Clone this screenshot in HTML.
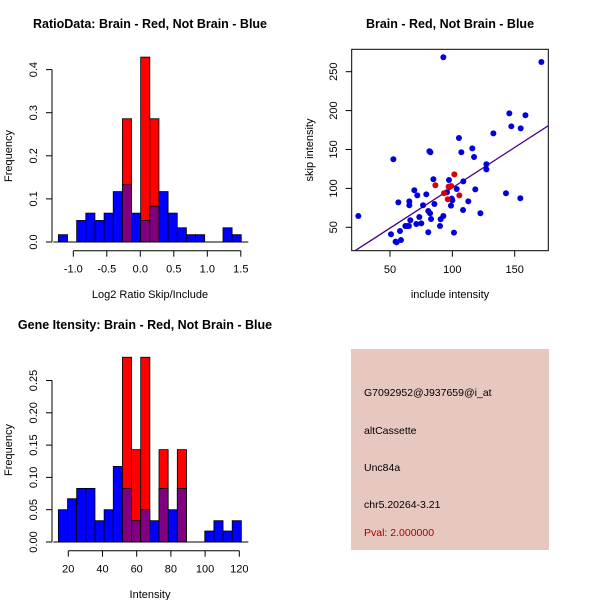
<!DOCTYPE html>
<html><head><meta charset="utf-8"><style>
body{margin:0;background:#fff;}
svg{display:block;font-family:"Liberation Sans",sans-serif;}
</style></head><body>
<svg id="s" width="600" height="600" xmlns="http://www.w3.org/2000/svg">
<rect x="0" y="0" width="600" height="600" fill="#fff"/>
<text x="150" y="28" text-anchor="middle" font-size="12.5" font-weight="bold">RatioData: Brain - Red, Not Brain - Blue</text>
<text x="450" y="28" text-anchor="middle" font-size="12.5" font-weight="bold">Brain - Red, Not Brain - Blue</text>
<text x="145" y="329" text-anchor="middle" font-size="12.5" font-weight="bold">Gene Itensity: Brain - Red, Not Brain - Blue</text>
<text x="150" y="298" text-anchor="middle" font-size="11">Log2 Ratio Skip/Include</text>
<text x="450" y="298" text-anchor="middle" font-size="11">include intensity</text>
<text x="150" y="598" text-anchor="middle" font-size="11">Intensity</text>
<text transform="translate(12,156) rotate(-90)" text-anchor="middle" font-size="11">Frequency</text>
<text transform="translate(313,150) rotate(-90)" text-anchor="middle" font-size="11">skip intensity</text>
<text transform="translate(12,450) rotate(-90)" text-anchor="middle" font-size="11">Frequency</text>
<g>
<rect x="351" y="349" width="198" height="201" fill="#e6c8c0"/>
<text x="364" y="396" font-size="10.5">G7092952@J937659@i_at</text>
<text x="364" y="434" font-size="10.5">altCassette</text>
<text x="364" y="471" font-size="10.5">Unc84a</text>
<text x="364" y="508" font-size="10.5">chr5.20264-3.21</text>
<text x="364" y="536" font-size="10.5" fill="#b00000">Pval: 2.000000</text>
</g>
</svg>
<script>
// ---- data ----
const ratioBlue=[0.017,0,0.05,0.067,0.05,0.067,0.117,0.133,0.067,0.05,0.083,0.117,0.067,0.033,0.017,0.017,0,0,0.033,0.017];
const ratioRed=[0,0,0,0,0,0,0,0.286,0,0.429,0.286,0,0,0,0,0,0,0,0,0];
const ratioBinStart=-1.223, ratioBinWidth=0.1365;
const ratioXTicks=[-1.0,-0.5,0.0,0.5,1.0,1.5];
const ratioXLabels=["-1.0","-0.5","0.0","0.5","1.0","1.5"];
const ratioYTicks=[0,0.1,0.2,0.3,0.4];
const ratioYLabels=["0.0","0.1","0.2","0.3","0.4"];

const intBlue=[0.05,0.067,0.083,0.083,0.033,0.05,0.117,0.083,0.033,0.05,0.033,0.083,0.05,0.083,0,0,0.017,0.033,0.017,0.033];
const intRed=[0,0,0,0,0,0,0,0.286,0.143,0.286,0,0.143,0,0.143,0,0,0,0,0,0];
const intBinStart=14.2, intBinWidth=5.35;
const intXTicks=[20,40,60,80,100,120];
const intXLabels=["20","40","60","80","100","120"];
const intYTicks=[0,0.05,0.1,0.15,0.2,0.25];
const intYLabels=["0.00","0.05","0.10","0.15","0.20","0.25"];

const blueX=[24.6,50.8,54.5,55.3,58.8,58,52.7,56.7,62.3,63.9,65.2,66.3,65.5,65.5,69.5,71.1,71.9,73.5,75.1,76.5,79.1,80.7,80.7,82.1,82.9,81.6,82.4,84.8,85.6,90.1,90.6,92.8,92.8,95.7,97.3,98.9,99.5,100,101.3,103.5,105.3,107.2,108.6,108.8,112.8,116,117.4,118.4,122.5,127.3,127.3,132.9,143,145.7,147.3,154.8,154.5,158.6,171.4];
const blueY=[64.6,41,31.6,30.7,33.7,45.3,137.4,82,51.7,51.7,51.7,59,83.4,78.3,97.6,54.3,91.1,63.3,55.1,78.3,92.4,43.6,71,68,60.7,147.7,146.4,111.7,80,51.7,60.3,64.6,268.5,95,110.8,77.8,86.8,84.7,43.1,99.3,164.8,146.4,72.3,109.1,83.4,151.5,140.4,98.8,68,131,124.5,170.8,93.7,196.5,179.8,177.2,87.3,194,262.5];
const redX=[86.4,93.3,97,99.1,101.6,105.6,96.3];
const redY=[104,93.7,102.3,103.1,118.1,91.1,86];
const fitSlope=1.037, fitIntercept=-2.9;
const scXTicks=[50,100,150], scYTicks=[50,100,150,200,250];

// ---- drawing ----
const svg=document.getElementById('s');
const NS='http://www.w3.org/2000/svg';
function mk(tag,attrs){const e=document.createElementNS(NS,tag);for(const k in attrs)e.setAttribute(k,attrs[k]);svg.appendChild(e);return e;}

function hist(blue,red,b0,bw,sx,sy,xT,xL,yT,yL,axY,prefix){
  const base=sy(0);
  for(let i=0;i<blue.length;i++){
    const x0=sx(b0+i*bw),x1=sx(b0+(i+1)*bw);
    if(red[i]>0){
      const r=mk('rect',{x:x0,y:sy(red[i]),width:x1-x0,height:base-sy(red[i]),fill:'#ff0000',stroke:'#000','stroke-width':0.8});
      
      
    }
    if(blue[i]>0){
      const col=red[i]>0?'#800080':'#0000ff';
      const b=mk('rect',{x:x0,y:sy(blue[i]),width:x1-x0,height:base-sy(blue[i]),fill:col,stroke:'#000','stroke-width':0.8});
      
      
    }
  }
  mk('line',{x1:52,x2:52,y1:sy(yT[0]),y2:sy(yT[yT.length-1]),stroke:'#000'});
  yT.forEach((v,i)=>{
    mk('line',{x1:46,x2:52,y1:sy(v),y2:sy(v),stroke:'#000'});
    const t=mk('text',{transform:`translate(37,${sy(v)}) rotate(-90)`,'text-anchor':'middle','font-size':11});
    t.textContent=yL[i];
    
    
  });
  mk('line',{x1:sx(xT[0]),x2:sx(xT[xT.length-1]),y1:axY,y2:axY,stroke:'#000'});
  xT.forEach((v,i)=>{
    mk('line',{x1:sx(v),x2:sx(v),y1:axY,y2:axY+6,stroke:'#000'});
    const t=mk('text',{x:sx(v),y:axY+22,'text-anchor':'middle','font-size':11});
    t.textContent=xL[i];
    
    
  });
  mk('line',{x1:sx(b0)-5,x2:sx(b0+blue.length*bw)+7,y1:base,y2:base,stroke:'#000'});
}

hist(ratioBlue,ratioRed,ratioBinStart,ratioBinWidth,
  v=>73.3+(v+1)*67, v=>242-v*431, ratioXTicks,ratioXLabels,ratioYTicks,ratioYLabels,250.7,'ratio');
hist(intBlue,intRed,intBinStart,intBinWidth,
  v=>68.3+(v-20)*1.71, v=>542-v*646, intXTicks,intXLabels,intYTicks,intYLabels,550.7,'intensity');

// scatter
const px=v=>390+(v-50)*1.247, py=v=>227.3-(v-50)*0.778;
const box=mk('rect',{x:351.7,y:49.3,width:196.6,height:201.4,fill:'none',stroke:'#000'});


const xa=22,xb=177;
const fl=mk('line',{x1:px(xa),y1:py(fitSlope*xa+fitIntercept),x2:px(xb),y2:py(fitSlope*xb+fitIntercept),stroke:'#4b0082','stroke-width':1.3});


blueX.forEach((v,i)=>{
  const c=mk('circle',{cx:px(v),cy:py(blueY[i]),r:3,fill:'#0000dd'});
  
  
});
redX.forEach((v,i)=>{
  const c=mk('circle',{cx:px(v),cy:py(redY[i]),r:3,fill:'#dd0000'});
  
  
});
scXTicks.forEach(v=>{
  mk('line',{x1:px(v),x2:px(v),y1:250.7,y2:256.7,stroke:'#000'});
  const t=mk('text',{x:px(v),y:273,'text-anchor':'middle','font-size':11});
  t.textContent=v;
  
  
});
scYTicks.forEach(v=>{
  mk('line',{x1:345.7,x2:351.7,y1:py(v),y2:py(v),stroke:'#000'});
  const t=mk('text',{transform:`translate(337,${py(v)}) rotate(-90)`,'text-anchor':'middle','font-size':11});
  t.textContent=v;
  
  
});
</script>
</body></html>
